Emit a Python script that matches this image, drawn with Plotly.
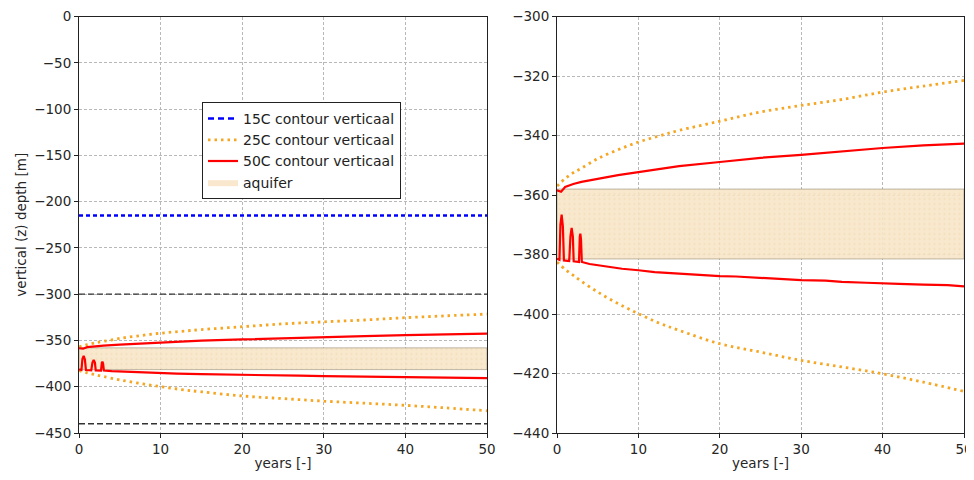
import plotly.graph_objects as go
from plotly.subplots import make_subplots

# ---- data ----
years_orange = [0, 1, 2, 3, 5, 7.5, 10, 12.5, 15, 20, 25, 30, 35, 40, 45, 50]
c25_top = [-357, -354.5, -352.5, -351, -347.8, -344.8, -342.2, -340.2, -338.3, -335.2, -332.1, -329.9, -327.9, -325.4, -323.4, -321.5]
c25_bot = [-382.5, -385, -387, -389, -392.6, -396.5, -399.9, -403, -405.5, -410, -412.8, -415.6, -417.8, -420.1, -422.9, -426]

years_red_top = [0, 0.5, 1, 2, 3, 5, 7.5, 10, 12.5, 15, 20, 25, 30, 35, 40, 45, 50]
c50_top = [-358.4, -358.9, -357.3, -356.3, -355.6, -354.5, -353.3, -352.3, -351.2, -350.3, -348.9, -347.5, -346.5, -345.3, -344.2, -343.3, -342.7]

years_red_bot = [0, 0.3, 0.42, 0.57, 0.72, 0.85, 1.5, 1.65, 1.8, 1.95, 2.05, 2.7, 2.8, 2.87, 2.95, 3.05,
                 4, 5, 7, 8, 10, 12, 15, 17.5, 20, 22, 25, 27, 30, 33, 35, 38, 40, 42, 45, 48, 50]
c50_bot = [-381.4, -381.8, -370, -366.6, -370.5, -382, -382.2, -374, -371.1, -374, -382.3, -382.5, -374, -373.0, -375, -382.5,
           -383.2, -383.6, -384.4, -384.8, -385.3, -385.9, -386.4, -386.9, -387.3, -387.4, -387.9, -388.1, -388.6, -388.8, -389.2, -389.5, -389.8, -389.9, -390.1, -390.3, -390.7]

c15_depth = -215
model_top = -300
model_bot = -440
aquifer_top = -358
aquifer_bot = -381.5
x_range = [0, 50]

RED = "#ff0000"
ORANGE = "#f5a623"
BLUE = "#0000ff"
FONT = "DejaVu Sans"
FS = 13.5

# page offset of the plot div (body margin) in pixels
OX, OY = 7, 6

fig = make_subplots(rows=1, cols=2)

aq_x = [x_range[0], x_range[1], x_range[1], x_range[0], x_range[0]]
aq_y = [aquifer_top, aquifer_top, aquifer_bot, aquifer_bot, aquifer_top]

for col in (1, 2):
    # aquifer band
    fig.add_trace(go.Scatter(
        x=aq_x, y=aq_y, mode="lines", fill="toself",
        fillcolor="rgba(245,222,179,0.6)",
        fillpattern=dict(shape=".", fgcolor="rgba(225,180,120,0.45)",
                         bgcolor="rgba(248,230,200,0.9)", size=5, solidity=0.15),
        line=dict(color="rgba(150,140,120,0.6)", width=1),
        name="aquifer", showlegend=False), row=1, col=col)
    if col == 1:
        fig.add_trace(go.Scatter(x=x_range, y=[model_top, model_top], mode="lines",
                                 line=dict(color="#333333", width=1.3, dash="6px,3px"),
                                 showlegend=False), row=1, col=1)
        fig.add_trace(go.Scatter(x=x_range, y=[model_bot, model_bot], mode="lines",
                                 line=dict(color="#333333", width=1.3, dash="6px,3px"),
                                 showlegend=False), row=1, col=1)
        fig.add_trace(go.Scatter(x=x_range, y=[c15_depth, c15_depth], mode="lines",
                                 line=dict(color=BLUE, width=2.5, dash="4px,3px"),
                                 showlegend=False), row=1, col=1)
    # 25C
    fig.add_trace(go.Scatter(x=years_orange, y=c25_top, mode="lines", line_shape="spline",
                             line=dict(color=ORANGE, width=2.8, dash="2.5px,4px"),
                             showlegend=False), row=1, col=col)
    fig.add_trace(go.Scatter(x=years_orange, y=c25_bot, mode="lines", line_shape="spline",
                             line=dict(color=ORANGE, width=2.8, dash="2.5px,4px"),
                             showlegend=False), row=1, col=col)
    # 50C
    fig.add_trace(go.Scatter(x=years_red_top, y=c50_top, mode="lines",
                             line=dict(color=RED, width=2.2),
                             showlegend=False), row=1, col=col)
    fig.add_trace(go.Scatter(x=years_red_bot, y=c50_bot, mode="lines",
                             line=dict(color=RED, width=2.2),
                             showlegend=False), row=1, col=col)

# legend-only entries (ordered)
fig.add_trace(go.Scatter(x=[None], y=[None], mode="lines",
                         line=dict(color=BLUE, width=2.5, dash="6px,4px"),
                         name="15C contour verticaal"), row=1, col=1)
fig.add_trace(go.Scatter(x=[None], y=[None], mode="lines",
                         line=dict(color=ORANGE, width=2.8, dash="2.5px,4px"),
                         name="25C contour verticaal"), row=1, col=1)
fig.add_trace(go.Scatter(x=[None], y=[None], mode="lines",
                         line=dict(color=RED, width=2.2),
                         name="50C contour verticaal"), row=1, col=1)
fig.add_trace(go.Scatter(x=[None, None], y=[None, None], mode="lines", fill="toself",
                         fillcolor="rgba(248,230,200,0.9)",
                         line=dict(color="rgba(0,0,0,0)", width=0),
                         name="aquifer"), row=1, col=1)

axis_common = dict(
    showline=True, linecolor="#222222", linewidth=1, mirror=True,
    ticks="outside", ticklen=4, tickcolor="#222222",
    showgrid=True, gridcolor="#b8b8b8", griddash="3px,2px", gridwidth=1,
    zeroline=False, automargin=False,
    tickfont=dict(family=FONT, size=FS, color="#262626"),
)

fig.update_xaxes(range=x_range, dtick=10, tick0=0,
                 title=dict(text="years [-]", font=dict(family=FONT, size=FS, color="#262626"), standoff=2),
                 **axis_common)
fig.update_xaxes(domain=[(78 - OX) / 974, (486 - OX) / 974], row=1, col=1)
fig.update_xaxes(domain=[(556 - OX) / 974, (963 - OX) / 974], row=1, col=2)

fig.update_yaxes(range=[-450, 0], dtick=50, tick0=0, row=1, col=1,
                 title=dict(text="vertical (z) depth [m]", font=dict(family=FONT, size=FS, color="#262626"), standoff=4),
                 **axis_common)
fig.update_yaxes(range=[-440, -300], dtick=20, tick0=-300, row=1, col=2, **axis_common)
fig.update_yaxes(domain=[1 - (431 - OY) / 480, 1 - (14.5 - OY) / 480])

fig.update_layout(
    width=974, height=480,
    margin=dict(l=0, r=0, t=0, b=0, autoexpand=False),
    paper_bgcolor="white", plot_bgcolor="white",
    font=dict(family=FONT, size=FS, color="#262626"),
    legend=dict(x=(201 - OX) / 974, y=1 - (100 - OY) / 480, xanchor="left", yanchor="top",
                bgcolor="white", bordercolor="#222222", borderwidth=1,
                font=dict(family=FONT, size=14, color="#222222"),
                tracegroupgap=0, itemwidth=30),
)

fig.write_html("out.html")
